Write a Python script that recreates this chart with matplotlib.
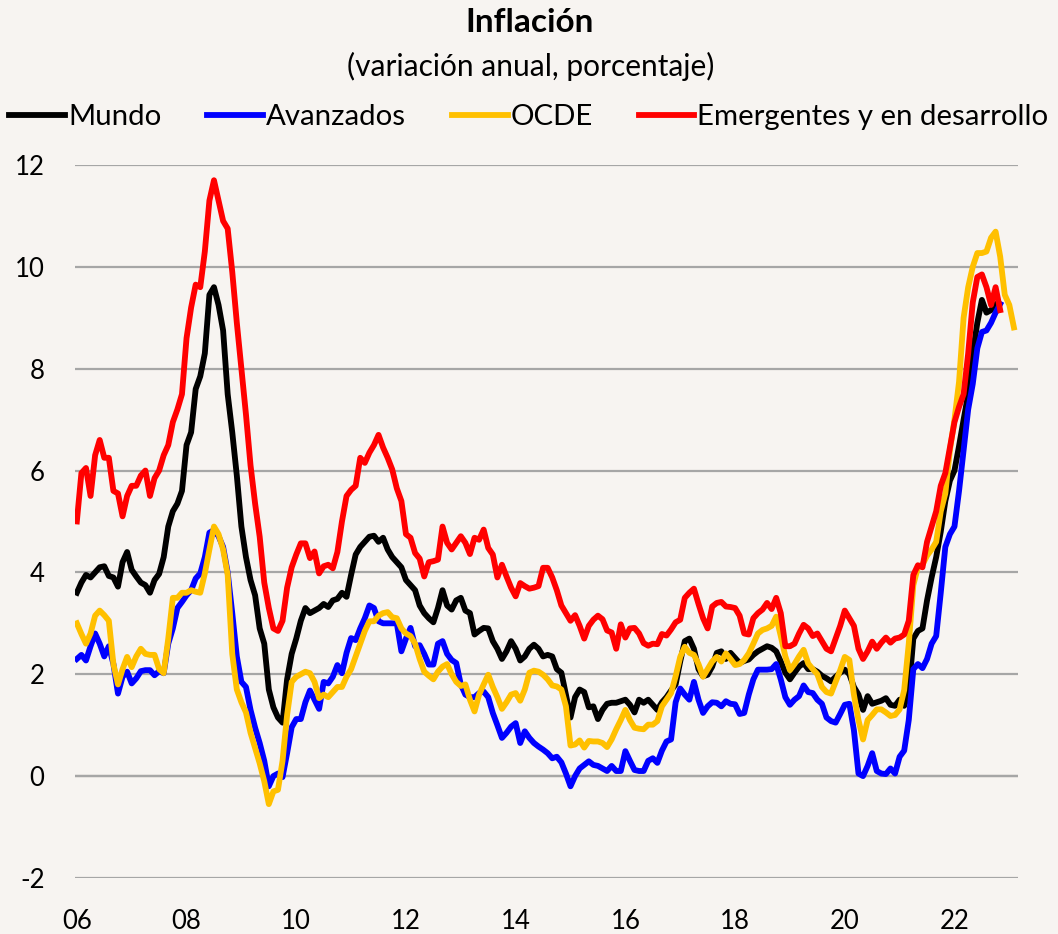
import matplotlib.pyplot as plt
import numpy as np

# monthly annual inflation, starting Jan 2006
mundo = [3.6, 3.8, 3.95, 3.9, 4.0, 4.1, 4.12, 3.93, 3.9, 3.72, 4.2, 4.4,
         4.05, 3.92, 3.8, 3.75, 3.6, 3.85, 3.97, 4.3, 4.9, 5.2, 5.35, 5.6,
         6.5, 6.75, 7.6, 7.85, 8.3, 9.45, 9.6, 9.25, 8.75, 7.5, 6.75, 5.9,
         4.9, 4.3, 3.85, 3.55, 2.9, 2.6, 1.7, 1.35, 1.15, 1.05, 1.9, 2.4,
         2.7, 3.05, 3.3, 3.2, 3.25, 3.3, 3.38, 3.32, 3.45, 3.48, 3.6, 3.52,
         3.95, 4.35, 4.5, 4.6, 4.7, 4.72, 4.6, 4.68, 4.45, 4.3, 4.2, 4.1,
         3.85, 3.75, 3.65, 3.35, 3.2, 3.1, 3.02, 3.3, 3.65, 3.35, 3.27, 3.45,
         3.5, 3.25, 3.2, 2.78, 2.85, 2.91, 2.9, 2.65, 2.5, 2.3, 2.45, 2.65,
         2.5, 2.27, 2.35, 2.5, 2.58, 2.5, 2.35, 2.38, 2.35, 2.1, 2.03, 1.6,
         1.15, 1.55, 1.7, 1.65, 1.35, 1.37, 1.12, 1.3, 1.42, 1.44, 1.44, 1.47,
         1.5, 1.4, 1.25, 1.5, 1.44, 1.5, 1.4, 1.3, 1.45, 1.55, 1.68, 1.8,
         2.25, 2.65, 2.7, 2.5, 2.1, 1.96, 1.99, 2.15, 2.42, 2.45, 2.3, 2.42,
         2.32, 2.22, 2.26, 2.29, 2.38, 2.45, 2.5, 2.55, 2.52, 2.45, 2.25, 2.03,
         1.9, 2.03, 2.15, 2.22, 2.1, 2.1, 2.05, 1.97, 1.92, 1.86, 1.95, 2.03,
         2.09, 2.0, 1.75, 1.6, 1.3, 1.57, 1.42, 1.45, 1.48, 1.53, 1.4, 1.38,
         1.5, 1.38, 1.65, 2.7, 2.85, 2.9, 3.45, 3.9, 4.3, 4.8, 5.4, 5.8,
         6.0, 6.48, 7.0, 7.5, 8.3, 8.9, 9.35, 9.1, 9.15, 9.25]

avanzados = [2.3, 2.38, 2.27, 2.55, 2.8, 2.6, 2.35, 2.55, 2.2, 1.62, 1.95, 2.05,
             1.82, 1.92, 2.06, 2.08, 2.08, 1.98, 2.06, 2.02, 2.6, 2.9, 3.3, 3.42,
             3.55, 3.65, 3.88, 3.98, 4.3, 4.78, 4.83, 4.71, 4.5, 4.0, 3.2, 2.35,
             1.85, 1.75, 1.3, 0.95, 0.65, 0.3, -0.2, 0.0, 0.05, -0.02, 0.45, 0.96,
             1.12, 1.12, 1.45, 1.68, 1.5, 1.32, 1.85, 1.82, 1.95, 2.18, 2.02, 2.42,
             2.71, 2.67, 2.9, 3.1, 3.35, 3.3, 3.04, 3.0, 3.0, 3.0, 3.0, 2.45,
             2.7, 2.91, 2.55, 2.57, 2.4, 2.19, 2.19, 2.6, 2.65, 2.4, 2.28, 2.22,
             1.8, 1.6, 1.55, 1.55, 1.63, 1.66, 1.55, 1.24, 1.0, 0.75, 0.85, 0.97,
             1.04, 0.65, 0.88, 0.75, 0.65, 0.58, 0.52, 0.45, 0.35, 0.38, 0.27, 0.05,
             -0.2, 0.0, 0.15, 0.22, 0.29, 0.22, 0.2, 0.15, 0.1, 0.2, 0.1, 0.1,
             0.49, 0.3, 0.12, 0.1, 0.1, 0.3, 0.35, 0.26, 0.5, 0.68, 0.72, 1.45,
             1.72, 1.6, 1.5, 1.85, 1.5, 1.24, 1.37, 1.45, 1.44, 1.37, 1.47, 1.42,
             1.41, 1.22, 1.24, 1.6, 1.9, 2.09, 2.09, 2.09, 2.1, 2.2, 1.9, 1.55,
             1.4, 1.5, 1.57, 1.78, 1.65, 1.63, 1.5, 1.42, 1.15, 1.08, 1.05, 1.22,
             1.4, 1.42, 0.9, 0.05, 0.0, 0.2, 0.45, 0.1, 0.05, 0.04, 0.15, 0.05,
             0.38, 0.5, 1.1, 2.1, 2.2, 2.12, 2.3, 2.6, 2.75, 3.6, 4.5, 4.75,
             4.9, 5.6, 6.4, 7.2, 7.7, 8.4, 8.72, 8.75, 8.9, 9.1, 9.27]

ocde = [3.0, 2.79, 2.6, 2.8, 3.15, 3.25, 3.16, 3.05, 2.2, 1.8, 2.1, 2.34,
        2.14, 2.35, 2.5, 2.4, 2.38, 2.38, 2.1, 2.02, 2.7, 3.5, 3.5, 3.6,
        3.6, 3.65, 3.62, 3.6, 3.98, 4.45, 4.9, 4.75, 4.45, 3.95, 2.4, 1.7,
        1.45, 1.25, 0.85, 0.55, 0.25, -0.1, -0.55, -0.3, -0.27, 0.3, 1.2, 1.85,
        1.95, 2.0, 2.05, 2.02, 1.85, 1.53, 1.6, 1.55, 1.65, 1.75, 1.75, 1.95,
        2.1, 2.35, 2.6, 2.85, 3.04, 3.04, 3.15, 3.2, 3.22, 3.12, 3.1, 2.9,
        2.8, 2.75, 2.6, 2.3, 2.05, 1.97, 1.9, 2.05, 2.15, 2.2, 2.0, 1.85,
        1.77, 1.8, 1.5, 1.27, 1.6, 1.8, 1.99, 1.75, 1.55, 1.32, 1.45, 1.6,
        1.63, 1.48, 1.7, 2.03, 2.07, 2.05, 1.99, 1.9, 1.78, 1.76, 1.7, 1.37,
        0.6, 0.62, 0.7, 0.56, 0.69, 0.68, 0.68, 0.65, 0.57, 0.72, 0.92, 1.1,
        1.3, 1.1, 0.95, 0.93, 0.92, 1.01, 1.01, 1.08, 1.37, 1.5, 1.63, 1.96,
        2.34, 2.54, 2.42, 2.38, 2.2, 1.95, 2.1, 2.25, 2.34, 2.25, 2.41, 2.3,
        2.18, 2.2, 2.28, 2.41, 2.6, 2.8, 2.87, 2.9, 2.95, 3.13, 2.75, 2.35,
        2.08, 2.2, 2.35, 2.48, 2.21, 2.1, 2.0, 1.75, 1.65, 1.62, 1.85, 2.08,
        2.34, 2.28, 1.6, 1.1, 0.72, 1.1, 1.2, 1.31, 1.31, 1.25, 1.18, 1.2,
        1.31, 1.69, 2.6, 3.75, 4.1, 4.15, 4.33, 4.45, 4.6, 5.2, 5.55, 6.4,
        7.0, 7.74, 9.0, 9.6, 10.0, 10.27, 10.27, 10.3, 10.57, 10.69, 10.2, 9.45,
        9.25, 8.81]

emergentes = [5.0, 5.95, 6.05, 5.5, 6.3, 6.6, 6.25, 6.25, 5.6, 5.55, 5.1, 5.5,
              5.7, 5.7, 5.9, 6.0, 5.5, 5.85, 6.0, 6.3, 6.5, 6.95, 7.2, 7.5,
              8.6, 9.2, 9.65, 9.6, 10.3, 11.3, 11.7, 11.3, 10.9, 10.75, 9.9, 8.9,
              8.0, 7.1, 6.1, 5.35, 4.7, 3.8, 3.3, 2.9, 2.85, 3.05, 3.7, 4.1,
              4.35, 4.57, 4.57, 4.28, 4.41, 3.98, 4.12, 4.15, 4.08, 4.4, 5.0, 5.5,
              5.62, 5.7, 6.25, 6.15, 6.35, 6.5, 6.7, 6.45, 6.25, 6.02, 5.65, 5.4,
              4.75, 4.68, 4.38, 4.27, 3.92, 4.2, 4.22, 4.25, 4.9, 4.58, 4.45, 4.58,
              4.71, 4.58, 4.36, 4.68, 4.64, 4.84, 4.48, 4.35, 3.9, 4.15, 3.92, 3.7,
              3.53, 3.79, 3.73, 3.68, 3.7, 3.73, 4.09, 4.09, 3.9, 3.65, 3.35, 3.2,
              3.05, 3.16, 2.95, 2.7, 2.95, 3.07, 3.15, 3.08, 2.86, 2.82, 2.5, 2.98,
              2.72, 2.9, 2.91, 2.8, 2.61, 2.56, 2.6, 2.59, 2.79, 2.76, 2.88, 3.02,
              3.07, 3.5, 3.6, 3.68, 3.38, 3.1, 2.9, 3.33, 3.4, 3.42, 3.33, 3.32,
              3.3, 3.15, 2.8, 2.78, 3.1, 3.2, 3.27, 3.4, 3.28, 3.5, 3.2, 2.55,
              2.55, 2.6, 2.8, 2.97, 2.9, 2.75, 2.8, 2.65, 2.5, 2.45, 2.7, 2.95,
              3.25, 3.1, 2.95, 2.5, 2.3, 2.45, 2.64, 2.5, 2.62, 2.72, 2.62, 2.7,
              2.72, 2.78, 3.05, 3.95, 4.14, 4.1, 4.6, 4.9, 5.2, 5.7, 5.95, 6.45,
              6.95, 7.25, 7.5, 8.3, 9.3, 9.8, 9.85, 9.6, 9.25, 9.6, 9.15]

nombres = ["Mundo", "Avanzados", "OCDE", "Emergentes y en desarrollo"]
colores = ["#000000", "#0000ff", "#ffc000", "#ff0000"]
tick_years = list(range(2006, 2023, 2))
tick_labels = ["06", "08", "10", "12", "14", "16", "18", "20", "22"]

bg = "#f7f4f1"
plt.rcParams['font.family'] = ['Lato', 'DejaVu Sans']
plt.rcParams['axes.unicode_minus'] = False

fig = plt.figure(figsize=(10.58, 9.34), dpi=100, facecolor=bg)
ax = fig.add_axes([0.0709, 0.06, 0.8913, 0.7634], facecolor=bg)

for serie, col, nom in zip([mundo, avanzados, ocde, emergentes], colores, nombres):
    x = 2006 + np.arange(len(serie)) / 12
    ax.plot(x, serie, color=col, lw=4.2, label=nom, solid_joinstyle='round', zorder=3)

ax.set_ylim(-2, 12)
ax.set_yticks(range(-2, 13, 2))
ax.set_xlim(2006 - 0.4 / 12, 2006 + 205.9 / 12)
ax.set_xticks(tick_years)
ax.set_xticklabels(tick_labels)
ax.grid(axis='y', color='#a6a6a6', lw=1.6, zorder=0)
ax.axhline(0, color='black', lw=1.5, zorder=1)
for s in ax.spines.values():
    s.set_visible(False)
ax.tick_params(axis='y', length=0, labelsize=18.5, pad=22)
ax.tick_params(axis='x', length=0, labelsize=18.5, pad=22)

fig.text(0.501, 1 - 23 / 934, "Inflación", ha='center', va='center',
         fontsize=24, fontweight='bold')
fig.text(0.502, 1 - 66 / 934, "(variación anual, porcentaje)", ha='center',
         va='center', fontsize=21.5)

fig.legend(ncol=4, loc='center', bbox_to_anchor=(529 / 1058, 1 - 117 / 934),
           frameon=False, fontsize=21.2, handlelength=1.9, handletextpad=0.1,
           columnspacing=1.55, borderaxespad=0)

fig.savefig("out.png", dpi=100, facecolor=bg)
